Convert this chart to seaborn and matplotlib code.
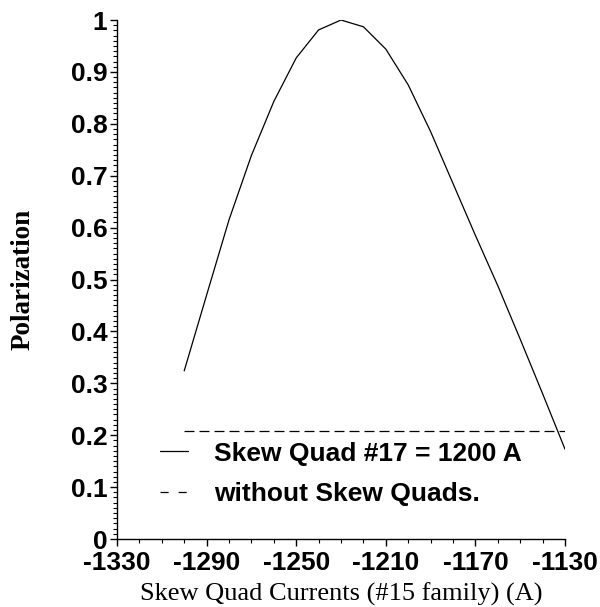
import numpy as np
import pandas as pd
import matplotlib
matplotlib.use("Agg")
import matplotlib.pyplot as plt
import seaborn as sns
from matplotlib.ticker import MultipleLocator, FuncFormatter

# Data
currents = [-1300, -1290, -1280, -1270, -1260, -1250, -1240, -1230, -1220,
            -1210, -1200, -1190, -1180, -1170, -1160, -1150, -1140, -1130]
polarization = [0.324, 0.470, 0.615, 0.739, 0.843, 0.927, 0.981, 1.000, 0.987,
                0.944, 0.875, 0.785, 0.685, 0.585, 0.488, 0.385, 0.280, 0.173]
baseline_x = [-1300, -1130]
baseline_y = [0.209, 0.209]
x_ticks = [-1330, -1290, -1250, -1210, -1170, -1130]

label_on = "Skew Quad #17 = 1200 A"
label_off = "without Skew Quads."

sns.set_style("ticks")
plt.rcParams['font.family'] = ['Liberation Sans', 'DejaVu Sans']
plt.rcParams['axes.unicode_minus'] = False
for k in ['text.color', 'axes.labelcolor', 'xtick.color', 'ytick.color']:
    plt.rcParams[k] = 'black'

fig = plt.figure(figsize=(6.0, 6.07), dpi=100)
ax = fig.add_axes([0.195, 0.112, 0.7467, 0.855])

df_on = pd.DataFrame({"current": currents, "pol": polarization})
df_off = pd.DataFrame({"current": baseline_x, "pol": baseline_y})

sns.lineplot(data=df_on, x="current", y="pol", ax=ax, color="black",
             lw=0.9, label=label_on)
sns.lineplot(data=df_off, x="current", y="pol", ax=ax, color="black",
             lw=0.9, label=label_off)
ax.lines[1].set_dashes((8, 4))

ax.set_xlim(-1330, -1130)
ax.set_ylim(0, 1)
ax.set_xticks(x_ticks)
ax.xaxis.set_minor_locator(MultipleLocator(10))
ax.yaxis.set_major_locator(MultipleLocator(0.1))
ax.yaxis.set_minor_locator(MultipleLocator(0.01))
ax.yaxis.set_major_formatter(FuncFormatter(lambda v, p: "%g" % round(v, 2)))

sns.despine(ax=ax)
for s in ["left", "bottom"]:
    ax.spines[s].set_linewidth(1.0)
    ax.spines[s].set_color("black")

ax.tick_params(which="major", length=5, width=1, pad=2, labelsize=19)
ax.tick_params(axis="x", which="major", pad=3.5)
ax.tick_params(which="minor", length=3, width=0.8)
for t in ax.get_xticklabels() + ax.get_yticklabels():
    t.set_fontweight("bold")

ax.set_xlabel("Skew Quad Currents (#15 family) (A)", family="Liberation Serif",
              fontsize=19, labelpad=5.5)
ax.set_ylabel("Polarization", family="Liberation Serif", fontsize=19.5,
              fontweight="bold")
ax.yaxis.set_label_coords(-0.181, 0.5)

leg = ax.legend(loc="lower left", bbox_to_anchor=(0.043, 0.018), frameon=False,
                prop={"weight": "bold", "size": 19}, handlelength=1.05,
                handletextpad=1.0, labelspacing=0.62)
leg.get_lines()[1].set_dashes((6.5, 8))

fig.savefig("out.png", dpi=100)
